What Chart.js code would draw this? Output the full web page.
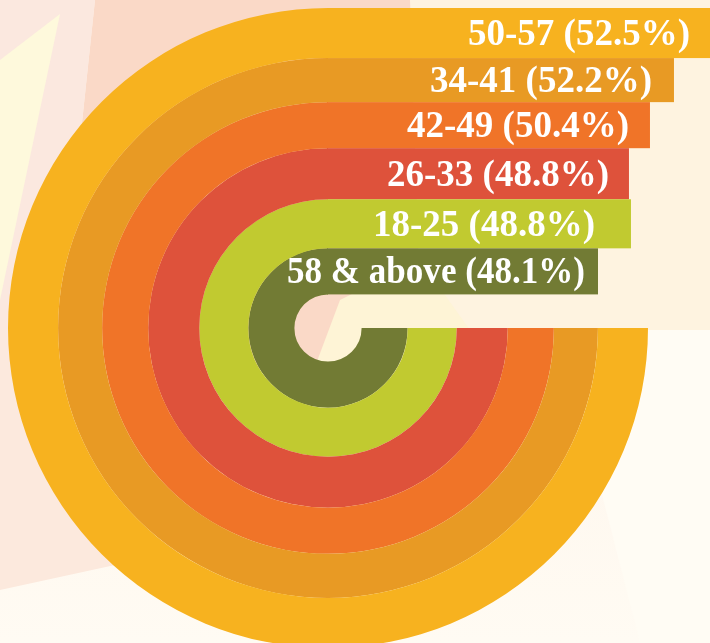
<!DOCTYPE html>
<html>
<head>
<meta charset="utf-8">
<script src="https://cdn.jsdelivr.net/npm/chart.js@4.4.1/dist/chart.umd.min.js"></script>
<style>
  html, body { margin: 0; padding: 0; width: 710px; height: 643px; overflow: hidden; background: #fdf4e8; }
  #wrap { position: absolute; left: 0; top: 0; width: 710px; height: 660px; }
</style>
</head>
<body>
<div id="wrap"><canvas id="rings"></canvas></div>
<script>
/* ── Data (outermost ring first) ─────────────────────────── */
const ageGroups = ['50-57', '34-41', '42-49', '26-33', '18-25', '58 & above'];
const shares = [52.5, 52.2, 50.4, 48.8, 48.8, 48.1];

/* ── Styling ── */
const RING_COLORS = ['#f7b21f', '#e89a24', '#f07428', '#de523b', '#c1ca30', '#727b34'];
const RING_WEIGHTS = [50, 44, 46, 51, 49, 46];
const TAB_LAYOUT = {
  textGap: [140, 102, 79, 59, 45, -41], // centre -> start of label
  pad: [22, 22, 21, 20, 36, 13],        // end of label -> end of tab
  maxWidth: [0, 0, 0, 0, 0, 298],       // squeeze the long label a little
};

/* ── Soft abstract backdrop ── */
const backdrop = {
  id: 'backdrop',
  beforeDraw(chart) {
    const { ctx, width, height } = chart;
    ctx.save();
    const g = ctx.createLinearGradient(0, 0, 0, 643);
    g.addColorStop(0, '#fdefe4');
    g.addColorStop(1, '#fffbf3');
    ctx.fillStyle = g;
    ctx.fillRect(0, 0, width, height);
    const poly = (pts, color) => {
      ctx.beginPath();
      pts.forEach(([px, py], k) => (k ? ctx.lineTo(px, py) : ctx.moveTo(px, py)));
      ctx.closePath();
      ctx.fillStyle = color;
      ctx.fill();
    };
    poly([[410, 0], [710, 0], [710, 330], [420, 330]], '#fef3e0');
    poly([[560, 330], [710, 330], [710, 643], [640, 643]], '#fffcf4');
    poly([[95, 0], [410, 0], [420, 300], [310, 380], [60, 330]], '#fad9c7');
    poly([[0, 0], [95, 0], [60, 330], [0, 330]], '#fbe8df');
    poly([[0, 60], [60, 14], [0, 300]], '#fef9dc');
    poly([[0, 330], [100, 320], [230, 540], [0, 590]], '#fce9dd');
    poly([[340, 300], [420, 260], [470, 330], [310, 380]], '#fef4d6');
    ctx.restore();
  },
};

/* ── Label tabs running right from the top of each ring ── */
const ringTabs = {
  id: 'ringTabs',
  afterDatasetsDraw(chart, args, opts) {
    const { ctx } = chart;
    ctx.save();
    ctx.font = `bold ${opts.fontSize}px "Liberation Serif", "Times New Roman", serif`;
    ctx.textAlign = 'left';
    ctx.textBaseline = 'alphabetic';
    chart.data.datasets.forEach((ds, i) => {
      const arc = chart.getDatasetMeta(i).data[0];
      const { x, y, innerRadius, outerRadius } =
        arc.getProps(['x', 'y', 'innerRadius', 'outerRadius'], true);
      const text = `${ageGroups[i]} (${shares[i].toFixed(1)}%)`;
      let tw = ctx.measureText(text).width;
      const mw = opts.maxWidth[i];
      if (mw && tw > mw) tw = mw;
      const textX = x + opts.textGap[i];
      const end = textX + tw + opts.pad[i];
      const top = y - outerRadius;
      const bottom = y - innerRadius;
      ctx.fillStyle = ds.backgroundColor;
      ctx.fillRect(x - 1, top, end - x + 1, bottom - top);
      ctx.fillStyle = '#ffffff';
      ctx.fillText(text, textX, (top + bottom) / 2 + 12, tw);
    });
    ctx.restore();
  },
};

new Chart(document.getElementById('rings'), {
  type: 'doughnut',
  data: {
    labels: ['Share'],
    datasets: ageGroups.map((g, i) => ({
      label: g,
      data: [shares[i]],
      backgroundColor: RING_COLORS[i],
      borderWidth: 0,
      hoverOffset: 0,
      weight: RING_WEIGHTS[i],
    })),
  },
  options: {
    responsive: true, maintainAspectRatio: false,
    animation: false,
    events: [],
    rotation: 90,
    circumference: 270,
    cutout: '10.5%',
    layout: { padding: { left: 8, top: 8, right: 62, bottom: 12 } },
    plugins: {
      legend: { display: false },
      tooltip: { enabled: false },
      ringTabs: { fontSize: 37, ...TAB_LAYOUT },
    },
  },
  plugins: [backdrop, ringTabs],
});
</script>
</body>
</html>
